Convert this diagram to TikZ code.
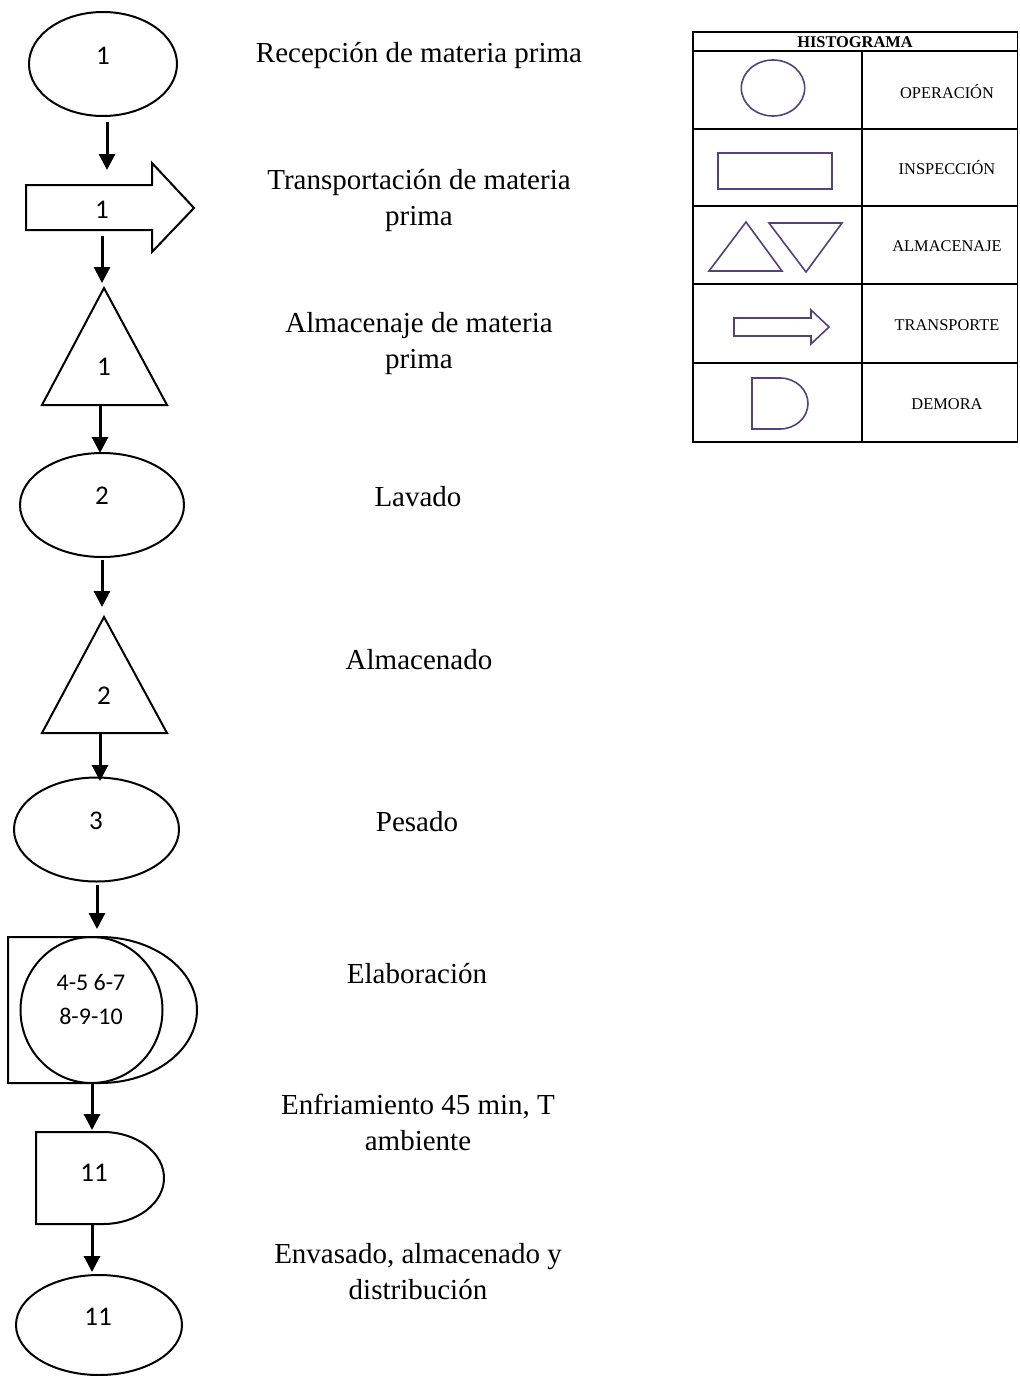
\documentclass[tikz,border=0pt]{standalone}
\usepackage{fontspec}
\setmainfont{Liberation Serif}
\newfontfamily\numfont{Carlito}
\usetikzlibrary{arrows.meta}
\definecolor{legendpurple}{RGB}{88,64,122}

\begin{document}
\begin{tikzpicture}[x=0.5pt,y=-0.5pt,
  outline/.style={draw=black, line width=1pt},
  flow/.style={line width=1.5pt, -{Triangle[width=8pt,length=8pt]}},
  num/.style={font=\numfont\fontsize{13.5}{16}\selectfont, align=center, inner sep=0},
  numsmall/.style={font=\numfont\fontsize{12}{16}\selectfont, align=center, inner sep=0},
  desc/.style={font=\fontsize{14.5}{18}\selectfont, align=center, inner sep=0},
  tbl/.style={draw=black, line width=0.8pt},
  sym/.style={draw=legendpurple, line width=0.8pt},
  legtext/.style={font=\fontsize{8.2}{10}\selectfont, inner sep=0}]
\useasboundingbox (0,0) rectangle (1019,1376);

% ---- process chart symbols ----
\draw[outline] (103,64) ellipse [x radius=74, y radius=52];
\node[num] (op1) at (103,56) {1};

\draw[outline] (26,185) -- (152,185) -- (152,163) -- (194,208) -- (152,252)
  -- (152,230) -- (26,230) -- cycle;
\node[num] (tr1) at (102,210) {1};

\draw[outline] (104,288) -- (167,405) -- (42,405) -- cycle;
\node[num] (st1) at (104,367) {1};

\draw[outline] (102,505) ellipse [x radius=82, y radius=52];
\node[num] (op2) at (102,496) {2};

\draw[outline] (104,617) -- (167,733) -- (42,733) -- cycle;
\node[num] (st2) at (104,696) {2};

\draw[outline] (96.5,829.5) ellipse [x radius=82.5, y radius=52];
\node[num] (op3) at (96,821) {3};

% combined operation / delay
\draw[outline] (100,937) -- (8,937) -- (8,1083) -- (100,1083)
  arc[start angle=90, end angle=-90, x radius=97, y radius=73];
\draw[outline] (91.5,1010) ellipse [x radius=71, y radius=73];
\node[numsmall] (el) at (91,999) {4-5 6-7\\[1pt]8-9-10};

\draw[outline] (103,1132) -- (36,1132) -- (36,1224) -- (103,1224)
  arc[start angle=90, end angle=-90, x radius=61, y radius=46];
\node[num] (de1) at (94,1173) {11};

\draw[outline] (99,1325) ellipse [x radius=83, y radius=50];
\node[num] (op4) at (98,1317) {11};

% ---- connectors ----
\coordinate (a1s) at (107,122);  \coordinate (a1e) at (107,170);
\coordinate (a2s) at (102,236);  \coordinate (a2e) at (102,283);
\coordinate (a3s) at (100,405);  \coordinate (a3e) at (100,453);
\coordinate (a4s) at (102,560);  \coordinate (a4e) at (102,607);
\coordinate (a5s) at (100,733);  \coordinate (a5e) at (100,781);
\coordinate (a6s) at (97,885);   \coordinate (a6e) at (97,929);
\coordinate (a7s) at (92,1083);  \coordinate (a7e) at (92,1130);
\coordinate (a8s) at (92,1224);  \coordinate (a8e) at (92,1272);
\foreach \i in {1,...,8} \draw[flow] (a\i s) -- (a\i e);

% ---- step descriptions ----
\node[desc] (d1) at (419,56)  {Recepción de materia prima};
\node[desc] (d2) at (419,201) {Transportación de materia\\prima};
\node[desc] (d3) at (419,344) {Almacenaje de materia\\prima};
\node[desc] (d4) at (418,497) {Lavado};
\node[desc] (d5) at (419,660) {Almacenado};
\node[desc] (d6) at (417,822) {Pesado};
\node[desc] (d7) at (417,974) {Elaboración};
\node[desc] (d8) at (418,1122) {Enfriamiento 45 min, T\\ambiente};
\node[desc] (d9) at (418,1272) {Envasado, almacenado y\\distribución};

% ---- legend table ----
\draw[tbl] (693,32) rectangle (1017.5,442);
\draw[tbl] (693,51) -- (1017.5,51);
\draw[tbl] (862,51) -- (862,442);
\foreach \yy in {129,206,284,363} \draw[tbl] (693,\yy) -- (1017.5,\yy);
\node[legtext, font=\bfseries\fontsize{8.2}{10}\selectfont] (hd) at (855,42) {HISTOGRAMA};

\draw[sym] (773,88) ellipse [x radius=31.7, y radius=28];
\node[legtext] (lo) at (947,92) {OPERACIÓN};

\draw[sym] (718,153) rectangle (832,189);
\node[legtext] (li) at (947,168) {INSPECCIÓN};

\draw[sym] (746,222) -- (782,271) -- (709,271) -- cycle;
\draw[sym] (769,223) -- (842,223) -- (806,272) -- cycle;
\node[legtext] (la) at (947,246) {ALMACENAJE};

\draw[sym] (734,318) -- (811,318) -- (811,310) -- (829,327) -- (811,344)
  -- (811,336) -- (734,336) -- cycle;
\node[legtext] (lt) at (947,325) {TRANSPORTE};

\draw[sym] (780,378) -- (752,378) -- (752,429) -- (780,429)
  arc[start angle=90, end angle=-90, x radius=28, y radius=25.5];
\node[legtext] (ld) at (947,404) {DEMORA};
\end{tikzpicture}
\end{document}
